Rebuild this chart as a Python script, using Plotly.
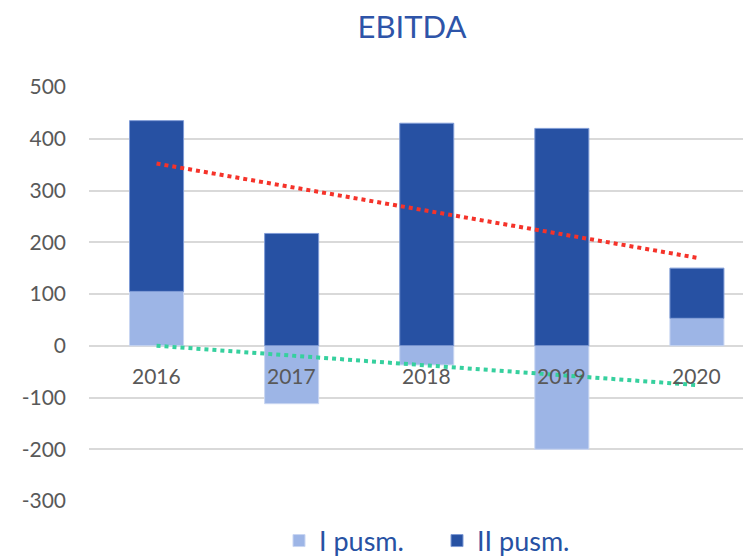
import plotly.graph_objects as go

years = ["2016", "2017", "2018", "2019", "2020"]
i_pusm = [105, -112, -37, -200, 53]
ii_pusm = [330, 217, 430, 420, 97]
# dotted trend lines (start at first year, end at last year)
trend_total = [352, 170]
trend_i = [0, -76]
y_ticks = [-300, -200, -100, 0, 100, 200, 300, 400, 500]
y_tick_labels = ["-300", "-200", "-100", "0", "100", "200", "300", "400", "500"]

FONT = "Lato"
LIGHT = "#9DB5E6"
DARK = "#2751A3"
GRID = "#D9D9D9"
TXT = "#595959"

W, H = 743, 558

fig = go.Figure()
fig.add_trace(go.Bar(x=years, y=i_pusm, name="I pusm.", marker=dict(color=LIGHT, line=dict(color="#C9D6F2", width=1)), width=0.4))
fig.add_trace(go.Bar(x=years, y=ii_pusm, name="II pusm.", marker=dict(color=DARK, line=dict(color="#7F9BD6", width=1)), width=0.4))
fig.add_trace(go.Scatter(x=[years[0], years[-1]], y=trend_total, mode="lines",
                         line=dict(color="#F5332A", width=4, dash="4px,4px"), showlegend=False))
fig.add_trace(go.Scatter(x=[years[0], years[-1]], y=trend_i, mode="lines",
                         line=dict(color="#36D09E", width=4, dash="4px,4px"), showlegend=False))

for idx, yr in enumerate(years):
    fig.add_annotation(x=idx, y=0, xref="x", yref="y", text=yr, showarrow=False,
                       yshift=-30, font=dict(family=FONT, size=21, color=TXT))

fig.update_layout(
    width=W, height=H,
    margin=dict(l=89, r=0, t=87, b=57, autoexpand=False),
    barmode="relative",
    plot_bgcolor="white", paper_bgcolor="white",
    title=dict(text="EBITDA", x=412/W, xanchor="center", xref="container",
               y=1 - 27/H, yanchor="middle", yref="container",
               font=dict(family=FONT, size=31, color="#2E54A8")),
    xaxis=dict(type="category", range=[-0.5, 4.341], showticklabels=False, showgrid=False,
               zeroline=False, showline=False, ticks=""),
    yaxis=dict(range=[-300, 500], tickvals=y_ticks, ticktext=y_tick_labels, showgrid=True,
               gridcolor=GRID, gridwidth=1.5,
               zeroline=True, zerolinecolor=GRID, zerolinewidth=1.5, showline=False,
               tickfont=dict(family=FONT, size=21, color=TXT), ticklabelstandoff=22),
    legend=dict(orientation="h", x=279/W, xanchor="left", xref="container",
                y=1 - 541/H, yanchor="middle", yref="container",
                font=dict(family=FONT, size=27, color=DARK), entrywidth=113,
                itemwidth=30, traceorder="normal"),
    showlegend=True,
)

fig.write_html("out.html", config={"displayModeBar": False},
               post_script="document.body.style.margin='0px';")
